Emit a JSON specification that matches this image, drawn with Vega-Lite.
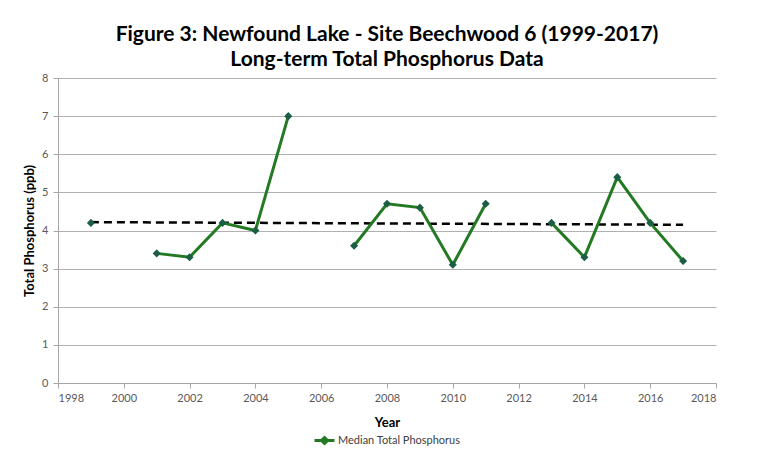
{
  "$schema": "https://vega.github.io/schema/vega-lite/v6.json",
  "width": 658,
  "height": 305,
  "autosize": {"type": "none"},
  "padding": {"left": 58, "top": 78, "right": 56, "bottom": 68},
  "background": "white",
  "title": {
    "text": ["Figure 3: Newfound Lake - Site Beechwood 6 (1999-2017)", "Long-term Total Phosphorus Data"],
    "font": "Lato",
    "fontSize": 21,
    "fontWeight": "bold",
    "color": "#000000",
    "anchor": "middle",
    "lineHeight": 25,
    "offset": 2
  },
  "config": {
    "view": {"stroke": null},
    "legend": {"layout": {"bottom": {"anchor": "middle"}}},
    "axis": {
      "labelFont": "Lato",
      "labelFontSize": 11,
      "labelColor": "#595959",
      "titleFont": "Lato",
      "titleFontSize": 13,
      "titleFontWeight": "bold",
      "titleColor": "#000000",
      "domainColor": "#a6a6a6",
      "tickColor": "#a6a6a6",
      "gridColor": "#b0b0b0"
    }
  },
  "datasets": {
    "tp": [
      {"Year": 1999, "TP": 4.2},
      {"Year": 2000, "TP": null},
      {"Year": 2001, "TP": 3.4},
      {"Year": 2002, "TP": 3.3},
      {"Year": 2003, "TP": 4.2},
      {"Year": 2004, "TP": 4.0},
      {"Year": 2005, "TP": 7.0},
      {"Year": 2006, "TP": null},
      {"Year": 2007, "TP": 3.6},
      {"Year": 2008, "TP": 4.7},
      {"Year": 2009, "TP": 4.6},
      {"Year": 2010, "TP": 3.1},
      {"Year": 2011, "TP": 4.7},
      {"Year": 2012, "TP": null},
      {"Year": 2013, "TP": 4.2},
      {"Year": 2014, "TP": 3.3},
      {"Year": 2015, "TP": 5.4},
      {"Year": 2016, "TP": 4.2},
      {"Year": 2017, "TP": 3.2}
    ],
    "trend": [
      {"Year": 1999, "TP": 4.22},
      {"Year": 2017, "TP": 4.15}
    ]
  },
  "encoding": {
    "x": {"field": "Year", "type": "quantitative", "scale": {"domain": [1998, 2018], "nice": false},
      "axis": {"values": [1998, 2000, 2002, 2004, 2006, 2008, 2010, 2012, 2014, 2016, 2018], "format": "d", "title": "Year", "grid": false, "tickSize": 5, "labelPadding": 4, "titlePadding": 13, "labelOverlap": false}},
    "y": {"field": "TP", "type": "quantitative", "scale": {"domain": [0, 8], "nice": false},
      "axis": {"values": [0, 1, 2, 3, 4, 5, 6, 7, 8], "title": "Total Phosphorus (ppb)", "grid": true, "tickSize": 5, "labelPadding": 5, "titlePadding": 5, "labelOverlap": false}}
  },
  "layer": [
    {
      "data": {"name": "trend"},
      "mark": {"type": "line", "color": "#000000", "strokeDash": [8, 5], "strokeWidth": 2.5}
    },
    {
      "data": {"name": "tp"},
      "mark": {"type": "line", "strokeWidth": 3, "invalid": "break-paths-show-domains"},
      "encoding": {
        "color": {
          "datum": "Median Total Phosphorus",
          "scale": {"range": ["#237a23"]},
          "legend": {
            "title": null,
            "orient": "bottom",
            "offset": 0,
            "labelFont": "Lato",
            "labelFontSize": 11,
            "labelColor": "#404040",
            "symbolType": "M-1,0H1M0,-0.3L0.3,0L0,0.3L-0.3,0Z",
            "symbolSize": 400,
            "symbolStrokeWidth": 3,
            "symbolFillColor": "#1b5e45",
            "labelOffset": 2
          }
        }
      }
    },
    {
      "data": {"name": "tp"},
      "transform": [{"filter": "datum.TP != null"}],
      "mark": {"type": "point", "shape": "diamond", "filled": true, "size": 65, "color": "#1b5e45", "opacity": 1}
    }
  ]
}
